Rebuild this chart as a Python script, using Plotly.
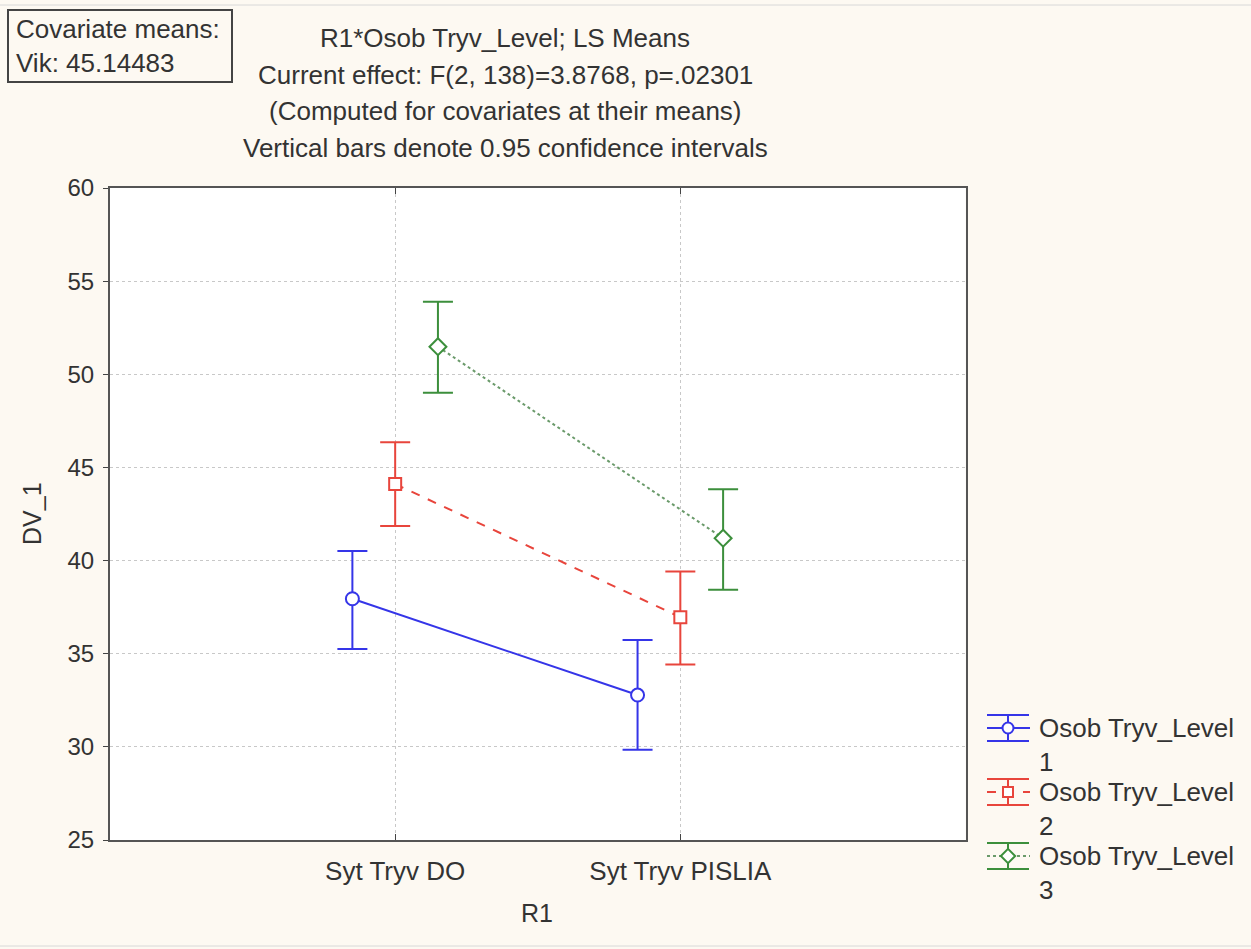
import plotly.graph_objects as go

# ---- data ----
categories = ["Syt Tryv DO", "Syt Tryv PISLIA"]
series_names = ["Osob Tryv_Level<br>1", "Osob Tryv_Level<br>2", "Osob Tryv_Level<br>3"]
level1_mean = [37.95, 32.78]
level1_low = [35.25, 29.84]
level1_high = [40.52, 35.73]
level2_mean = [44.11, 36.96]
level2_low = [41.86, 34.42]
level2_high = [46.35, 39.41]
level3_mean = [51.48, 41.20]
level3_low = [49.01, 38.44]
level3_high = [53.90, 43.83]
y_ticks = [25, 30, 35, 40, 45, 50, 55, 60]

W, H = 1251, 949
FONT = "Liberation Sans, Arial, sans-serif"
TXT = "#333333"
PAGE_BG = "#fdf9f2"
TEXT_SIZE = 26

series = [
    dict(mean=level1_mean, low=level1_low, high=level1_high, color="#3535e8",
         line_color="#3535e8", dash="solid", symbol="circle", size=13, shift=-0.15),
    dict(mean=level2_mean, low=level2_low, high=level2_high, color="#e8453c",
         line_color="#e8453c", dash="dash", symbol="square", size=12, shift=0.0),
    dict(mean=level3_mean, low=level3_low, high=level3_high, color="#3c8f3c",
         line_color="#6a9a6a", dash="dot", symbol="diamond", size=13, shift=0.15),
]


def px_x(p):
    return p / W


def px_y(p):
    return 1 - p / H


fig = go.Figure()

for s in series:
    xs = [i + 1 + s["shift"] for i in range(len(categories))]
    plus = [h - m for h, m in zip(s["high"], s["mean"])]
    minus = [m - l for m, l in zip(s["mean"], s["low"])]
    # connecting line
    fig.add_trace(go.Scatter(
        x=xs, y=s["mean"], mode="lines",
        line=dict(color=s["line_color"], width=2, dash=s["dash"]),
        showlegend=False, hoverinfo="skip"))
    # confidence interval bars
    fig.add_trace(go.Scatter(
        x=xs, y=s["mean"], mode="markers",
        marker=dict(size=1, color="rgba(0,0,0,0)"),
        error_y=dict(type="data", array=plus, arrayminus=minus, symmetric=False,
                     color=s["color"], thickness=2, width=15),
        showlegend=False, hoverinfo="skip"))
    # mean markers
    fig.add_trace(go.Scatter(
        x=xs, y=s["mean"], mode="markers",
        marker=dict(symbol=s["symbol"], size=s["size"],
                    color="white", line=dict(color=s["color"], width=2)),
        showlegend=False))

# ---- legend drawn on its own small pixel-scaled axes ----
leg_cx, leg_x0, leg_x1 = 1008, 987, 1030
leg_rows = [728, 792, 856]
for s, yc in zip(series, leg_rows):
    fig.add_trace(go.Scatter(
        x=[leg_x0, leg_x1], y=[yc, yc], mode="lines", xaxis="x2", yaxis="y2",
        line=dict(color=s["line_color"], width=2, dash=s["dash"]),
        showlegend=False, hoverinfo="skip"))
    fig.add_trace(go.Scatter(
        x=[leg_cx], y=[yc], mode="markers", xaxis="x2", yaxis="y2",
        marker=dict(size=1, color="rgba(0,0,0,0)"),
        error_y=dict(type="constant", value=13, color=s["color"], thickness=2, width=21),
        showlegend=False, hoverinfo="skip"))
    fig.add_trace(go.Scatter(
        x=[leg_cx], y=[yc], mode="markers", xaxis="x2", yaxis="y2",
        marker=dict(symbol=s["symbol"], size=s["size"] - 2,
                    color="white", line=dict(color=s["color"], width=2)),
        showlegend=False, hoverinfo="skip"))

annotations = []
for name, yc in zip(series_names, leg_rows):
    annotations.append(dict(
        x=px_x(1037), y=px_y(yc - 17), xref="paper", yref="paper",
        xanchor="left", yanchor="top", align="left", showarrow=False,
        text=name, font=dict(family=FONT, size=TEXT_SIZE, color=TXT)))

# ---- title block ----
title_lines = [
    "R1*Osob Tryv_Level; LS Means",
    "Current effect: F(2, 138)=3.8768, p=.02301",
    "(Computed for covariates at their means)",
    "Vertical bars denote 0.95 confidence intervals",
]
for line, yc in zip(title_lines, [38, 75, 111, 148]):
    annotations.append(dict(
        x=px_x(505), y=px_y(yc), xref="paper", yref="paper",
        xanchor="center", yanchor="middle", showarrow=False,
        text=line, font=dict(family=FONT, size=TEXT_SIZE, color=TXT)))

# covariate means box
for line, yc in zip(["Covariate means:", "Vik: 45.14483"], [29, 63]):
    annotations.append(dict(
        x=px_x(14), y=px_y(yc), xref="paper", yref="paper",
        xanchor="left", yanchor="middle", showarrow=False,
        text=line, font=dict(family=FONT, size=TEXT_SIZE, color=TXT)))

# axis titles
annotations.append(dict(
    x=px_x(537), y=px_y(913), xref="paper", yref="paper",
    xanchor="center", yanchor="middle", showarrow=False,
    text="R1", font=dict(family=FONT, size=25, color=TXT)))
annotations.append(dict(
    x=px_x(32), y=px_y(514), xref="paper", yref="paper",
    xanchor="center", yanchor="middle", showarrow=False, textangle=-90,
    text="DV_1", font=dict(family=FONT, size=25, color=TXT)))

shapes = [
    # white plotting area behind the main axes only
    dict(type="rect", xref="x domain", yref="y domain", x0=0, x1=1, y0=0, y1=1,
         fillcolor="white", line=dict(width=0), layer="below"),
    dict(type="rect", xref="paper", yref="paper",
         x0=px_x(8), x1=px_x(232), y0=px_y(10), y1=px_y(82),
         line=dict(color="#444444", width=2), fillcolor="rgba(0,0,0,0)"),
    dict(type="line", xref="paper", yref="paper",
         x0=0, x1=1, y0=px_y(5), y1=px_y(5),
         line=dict(color="#d8d8d8", width=1)),
    dict(type="line", xref="paper", yref="paper",
         x0=0, x1=1, y0=px_y(946), y1=px_y(946),
         line=dict(color="#d8d8d8", width=1)),
]

fig.update_layout(
    width=W, height=H,
    margin=dict(l=0, r=0, t=0, b=0),
    paper_bgcolor=PAGE_BG,
    plot_bgcolor="rgba(0,0,0,0)",
    showlegend=False,
    font=dict(family=FONT, size=24, color=TXT),
    annotations=annotations,
    shapes=shapes,
    xaxis=dict(
        domain=[px_x(110), px_x(965.5)], range=[0, 3],
        tickmode="array", tickvals=[1, 2], ticktext=categories,
        ticks="inside", ticklen=6, tickwidth=1, tickcolor="#444444",
        showline=True, linecolor="#555555", linewidth=2, mirror="ticks",
        showgrid=True, gridcolor="#c8c8c8", griddash="dot", gridwidth=1,
        zeroline=False, tickfont=dict(family=FONT, size=TEXT_SIZE, color=TXT),
        ticklabelstandoff=7, automargin=False,
    ),
    yaxis=dict(
        domain=[px_y(840), px_y(188)], range=[25, 60],
        tickmode="array", tickvals=y_ticks,
        ticks="outside", ticklen=5, tickwidth=1, tickcolor="#444444",
        showline=True, linecolor="#555555", linewidth=2, mirror=True,
        showgrid=True, gridcolor="#c8c8c8", griddash="dot", gridwidth=1,
        zeroline=False, tickfont=dict(family=FONT, size=24, color=TXT),
        ticklabelstandoff=4, automargin=False,
    ),
    xaxis2=dict(domain=[px_x(970), px_x(1050)], range=[970, 1050],
                visible=False, fixedrange=True, anchor="y2"),
    yaxis2=dict(domain=[px_y(900), px_y(700)], range=[900, 700],
                visible=False, fixedrange=True, anchor="x2"),
)

fig.write_html("out.html")
